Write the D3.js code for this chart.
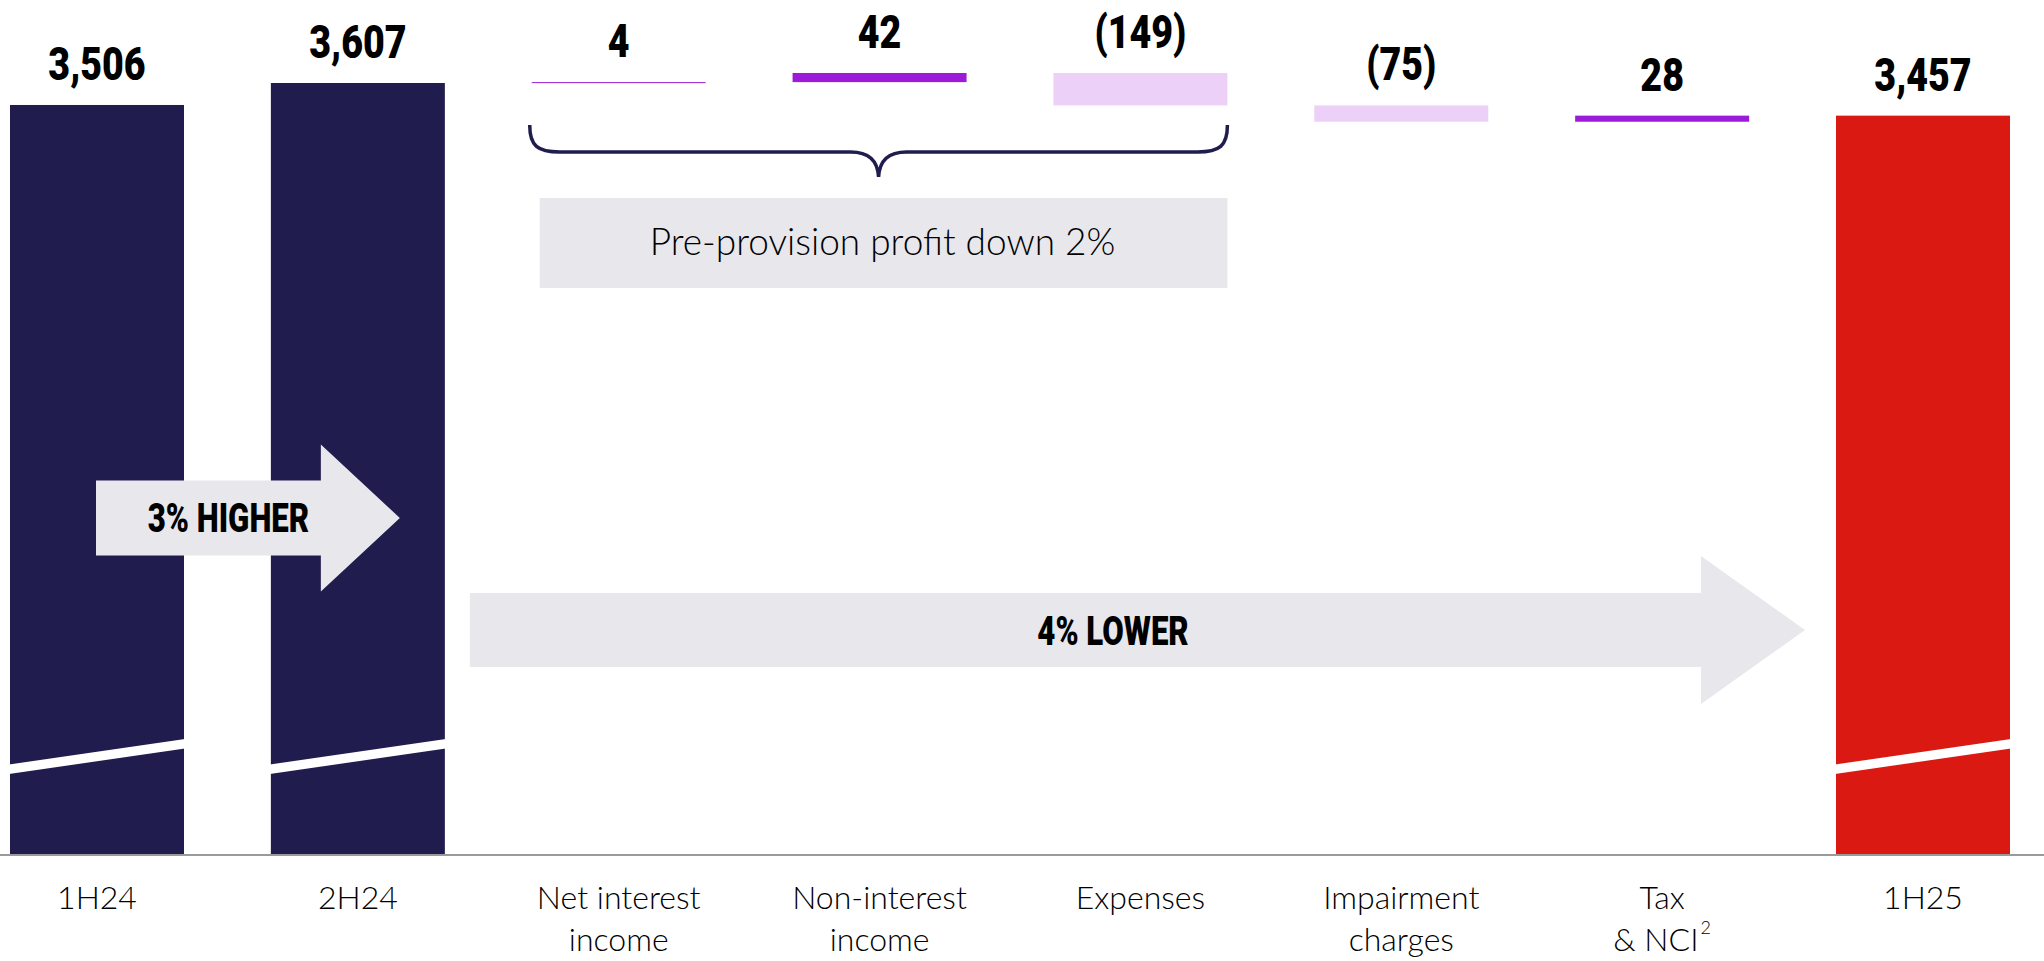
<!DOCTYPE html>
<html><head><meta charset="utf-8">
<script src="https://cdn.jsdelivr.net/npm/d3@7"></script>
<style>html,body{margin:0;padding:0;background:#fff;overflow:hidden}</style>
</head><body>
<svg id="chart" width="2044" height="961"></svg>
<script>
// ---- data ----
const categories = ["1H24", "2H24", "Net interest income", "Non-interest income", "Expenses", "Impairment charges", "Tax & NCI", "1H25"];
const categoryLines = [["1H24"], ["2H24"], ["Net interest", "income"], ["Non-interest", "income"], ["Expenses"], ["Impairment", "charges"], ["Tax", "& NCI"], ["1H25"]];
const kinds = ["total", "total", "delta", "delta", "delta", "delta", "delta", "total"];
const values = [3506, 3607, 4, 42, -149, -75, 28, 3457];
const valueLabels = ["3,506", "3,607", "4", "42", "(149)", "(75)", "28", "3,457"];
const footnoteMarks = ["", "", "", "", "", "", "2", ""];
const arrowLabels = ["3% HIGHER", "4% LOWER"];
const bracketLabel = "Pre-provision profit down 2%";

// ---- layout ----
const W = 2044, H = 961;
const baseY = 854;
const svg = d3.select("#chart");
const x = d3.scaleBand().domain(categories).range([10, 2010]).paddingInner(0.333).paddingOuter(0);
const y = d3.scaleLinear().domain([0, 3607]).range([868, 83]);
const bw = x.bandwidth();

const NAVY = "#201c4e", RED = "#da1912", PURPLE = "#9b1bd8", LAVENDER = "#ecd0f7", GREY = "#e8e7ec";

// waterfall computation
let running = 0;
const bars = categories.map((c, i) => {
  let start, end;
  if (kinds[i] === "total") { start = 0; end = values[i]; running = values[i]; }
  else { start = running; end = running + values[i]; running = end; }
  return {cat: c, i, start, end, kind: kinds[i], v: values[i]};
});
function barColor(d) {
  if (d.kind === "total") return d.i === categories.length - 1 ? RED : NAVY;
  return d.v >= 0 ? PURPLE : LAVENDER;
}
function barTop(d) { return d.kind === "total" ? y(d.end) : y(Math.max(d.start, d.end)); }
function barBottom(d) { return d.kind === "total" ? baseY : y(Math.min(d.start, d.end)); }

// bars
svg.append("g").selectAll("rect").data(bars).join("rect")
  .attr("x", d => x(d.cat))
  .attr("y", d => barTop(d))
  .attr("width", bw)
  .attr("height", d => Math.max(1, barBottom(d) - barTop(d)))
  .attr("fill", barColor);

// break marks on total bars
svg.append("g").selectAll("polygon").data(bars.filter(d => d.kind === "total")).join("polygon")
  .attr("points", d => {
    const x0 = x(d.cat) - 1, x1 = x(d.cat) + bw + 1;
    return [[x0, 764.5], [x1, 739], [x1, 748.5], [x0, 774]].map(p => p.join(",")).join(" ");
  })
  .attr("fill", "#fff");

// value labels (condensed heavy)
svg.append("g").selectAll("text").data(bars).join("text")
  .attr("transform", d => `translate(${x(d.cat) + bw / 2},${barTop(d) - 25}) scale(0.8,1)`)
  .attr("text-anchor", "middle")
  .attr("font-family", "Roboto, 'DejaVu Sans', sans-serif")
  .attr("font-weight", 900)
  .attr("font-size", 47)
  .attr("fill", "#000")
  .text((d, i) => valueLabels[i]);

// x axis line
svg.append("line").attr("x1", 0).attr("x2", W).attr("y1", baseY + 1).attr("y2", baseY + 1)
  .attr("stroke", "#9a9a9a").attr("stroke-width", 2);

// x axis labels via d3 axis
const axis = d3.axisBottom(x).tickSize(0).tickFormat("");
const gAxis = svg.append("g").attr("transform", `translate(0,${baseY})`).call(axis);
gAxis.select(".domain").remove();
gAxis.selectAll(".tick").each(function(c, i) {
  const t = d3.select(this).append("text")
    .attr("text-anchor", "middle")
    .attr("font-family", "Lato, 'Noto Sans', sans-serif")
    .attr("font-weight", 300)
    .attr("font-size", 32)
    .attr("fill", "#000");
  categoryLines[i].forEach((line, j) => {
    t.append("tspan").attr("x", 0).attr("y", 55 + j * 42).text(line);
  });
  if (footnoteMarks[i]) {
    t.append("tspan").attr("font-size", 18).attr("dy", -17).attr("dx", 2).text(footnoteMarks[i]);
  }
});

// arrows
function arrow(xStart, xBodyEnd, xTip, cy, hb, hh) {
  return [[xStart, cy - hb], [xBodyEnd, cy - hb], [xBodyEnd, cy - hh], [xTip, cy], [xBodyEnd, cy + hh], [xBodyEnd, cy + hb], [xStart, cy + hb]]
    .map(p => p.join(",")).join(" ");
}
const a1Tip = x(categories[1]) + bw - 45;
const a1Start = x(categories[0]) + bw / 2 - 1;
svg.append("polygon").attr("points", arrow(a1Start, a1Tip - 79, a1Tip, 518, 37.5, 73.5)).attr("fill", GREY);
const a2Start = x(categories[1]) + bw + 25;
const a2Tip = x(categories[7]) - 31;
svg.append("polygon").attr("points", arrow(a2Start, a2Tip - 104, a2Tip, 630, 37, 74)).attr("fill", GREY);

function condensedText(txt, cx, by) {
  svg.append("text")
    .attr("transform", `translate(${cx},${by}) scale(0.78,1)`)
    .attr("text-anchor", "middle")
    .attr("font-family", "Roboto, 'DejaVu Sans', sans-serif")
    .attr("font-weight", 900)
    .attr("font-size", 40)
    .attr("fill", "#000")
    .text(txt);
}
condensedText(arrowLabels[0], (a1Start + a1Tip - 79) / 2 + 20, 532);
condensedText(arrowLabels[1], 1113, 645);

// brace over pre-provision components
const bl = x(categories[2]) - 2, br = x(categories[4]) + bw, bc = (bl + br) / 2;
const braceTop = 125, braceMid = 152, braceTip = 177;
svg.append("path")
  .attr("d", `M${bl},${braceTop} C${bl},${braceMid - 6} ${bl + 8},${braceMid} ${bl + 30},${braceMid}
    L${bc - 28},${braceMid} C${bc - 10},${braceMid} ${bc - 1},${braceMid + 8} ${bc},${braceTip}
    C${bc + 1},${braceMid + 8} ${bc + 10},${braceMid} ${bc + 28},${braceMid}
    L${br - 30},${braceMid} C${br - 8},${braceMid} ${br},${braceMid - 6} ${br},${braceTop}`)
  .attr("fill", "none").attr("stroke", NAVY).attr("stroke-width", 3.5);

svg.append("rect").attr("x", x(categories[2]) + 8).attr("y", 198)
  .attr("width", br - x(categories[2]) - 8).attr("height", 90).attr("fill", GREY);
svg.append("text")
  .attr("x", bc + 4).attr("y", 255)
  .attr("text-anchor", "middle")
  .attr("font-family", "Lato, 'Noto Sans', sans-serif")
  .attr("font-weight", 300)
  .attr("font-size", 37)
  .attr("fill", "#000")
  .text(bracketLabel);
</script>
</body></html>
